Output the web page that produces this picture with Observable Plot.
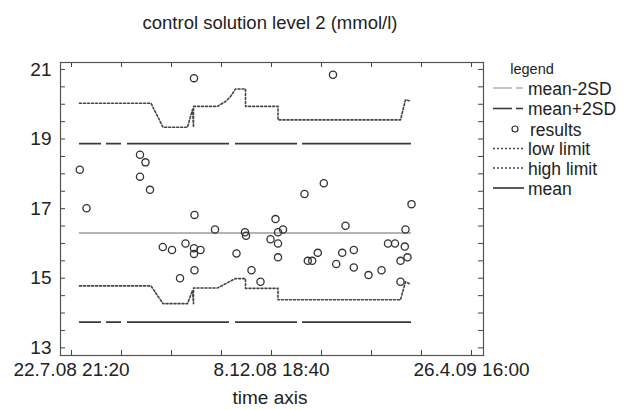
<!DOCTYPE html>
<html><head><meta charset="utf-8">
<script src="https://cdn.jsdelivr.net/npm/d3@7"></script>
<script src="https://cdn.jsdelivr.net/npm/@observablehq/plot@0.6"></script>
<style>
body{margin:0;background:#fff;}
#wrap{position:relative;width:624px;height:410px;font-family:"Liberation Sans",Arial,sans-serif;color:#222;overflow:hidden;}
#chart{position:absolute;left:0;top:0;}
#title{position:absolute;left:0;top:12px;width:540px;text-align:center;font-size:18.5px;line-height:22px;}
#xlabel{position:absolute;left:0;top:388px;width:540px;text-align:center;font-size:19px;line-height:20px;}
#legend{position:absolute;left:480px;top:55px;}
</style></head><body>
<div id="wrap">
<div id="chart"></div>
<div id="title">control solution level 2 (mmol/l)</div>
<div id="xlabel">time axis</div>
<svg id="legend" width="144" height="160"></svg>
</div>
<script>
// ---- data ----
const resultDates = [
"2008-07-28T15:30","2008-08-02T07:30","2008-09-08T11:00","2008-09-12T06:45","2008-09-08T11:00",
"2008-09-15T09:30","2008-09-24T07:00","2008-09-30T16:20","2008-10-06T05:45","2008-10-10T01:30",
"2008-10-15T23:00","2008-10-16T07:30","2008-10-15T23:00","2008-10-15T23:00","2008-10-20T11:20",
"2008-10-16T07:30","2008-10-30T13:00","2008-11-14T11:20","2008-11-20T09:00","2008-11-21T01:40",
"2008-11-24T21:20","2008-12-01T03:20","2008-12-08T02:00","2008-12-11T13:20","2008-12-13T07:00",
"2008-12-13T07:00","2008-12-16T18:30","2008-12-13T07:00","2008-12-31T16:50","2009-01-14T02:20",
"2009-01-20T11:45","2009-01-02T23:45","2009-01-06T01:00","2009-01-09T22:20","2009-01-22T17:00",
"2009-01-26T21:00","2009-01-29T04:00","2009-02-03T22:20","2009-02-03T22:20","2009-02-14T03:20",
"2009-02-23T04:00","2009-02-27T16:20","2009-03-04T13:00","2009-03-11T20:00","2009-03-11T08:20",
"2009-03-13T05:20","2009-03-08T08:40","2009-03-08T08:40","2009-03-16T00:00"];
const resultValues = [
18.12,17.01,18.55,18.33,17.92,
17.54,15.90,15.81,15.00,16.00,
20.75,16.82,15.86,15.70,15.81,
15.23,16.40,15.71,16.32,16.22,
15.23,14.90,16.12,16.70,16.32,
16.00,16.40,15.60,17.42,17.73,
20.85,15.50,15.50,15.73,15.41,
15.73,16.51,15.31,15.81,15.09,
15.23,16.00,16.00,16.40,15.91,
15.60,15.50,14.90,17.13];

const limitDates = [
"2008-07-28T10:45","2008-09-16T02:25","2008-09-24T10:20","2008-10-11T10:45","2008-10-14T22:00",
"2008-10-15T14:40","2008-10-15T14:40","2008-11-01T06:45","2008-11-06T20:00","2008-11-10T07:30",
"2008-11-13T18:45","2008-11-20T17:20","2008-11-20T17:20","2008-12-13T07:00","2008-12-13T07:00",
"2009-03-08T08:40","2009-03-11T20:00","2009-03-14T14:40"];
const highLimit = [20.03,20.03,19.34,19.34,19.85,19.34,19.94,19.94,20.08,20.22,20.44,20.44,19.94,19.94,19.55,19.55,20.13,20.10];
const lowLimit  = [14.78,14.78,14.27,14.27,14.65,14.27,14.72,14.72,14.84,14.92,14.99,14.99,14.71,14.71,14.38,14.38,14.90,14.84];

const meanValue = 16.30;
const meanPlus2SD = 18.87;
const meanMinus2SD = 13.74;
const lineSpan = ["2008-07-28T10:45","2009-03-16T00:00"];

const xDomain = ["2008-07-15T06:00","2009-05-05T00:00"];
const yDomain = [12.78, 21.2];
const xTickDates = ["2008-07-22T21:20","2008-12-08T18:40","2009-04-26T16:00"];
const xTickLabels = ["22.7.08 21:20","8.12.08 18:40","26.4.09 16:00"];
const yTicks = [13,15,17,19,21];
const legendLabels = ["mean-2SD","mean+2SD","results","low limit","high limit","mean"];

// ---- build ----
const parse = s => new Date(s);
const results = resultDates.map((d,i)=>({date: parse(d), value: resultValues[i]}));
const limits = limitDates.map((d,i)=>({date: parse(d), low: lowLimit[i], high: highLimit[i]}));
const sdLines = [meanPlus2SD, meanMinus2SD].map(v=>({y: v, x1: parse(lineSpan[0]), x2: parse(lineSpan[1])}));
const meanLine = [{y: meanValue, x1: parse(lineSpan[0]), x2: parse(lineSpan[1])}];
const xMajor = xTickDates.map(parse);
const t0 = +xMajor[0], t2 = +xMajor[xMajor.length-1];
const xMinor = d3.range(9).map(i => new Date(t0 + i*(t2-t0)/8));
const yMinor = d3.range(13, 21.001, 0.5);

const W=624, H=410, mL=60, mR=141, mT=62, mB=55;
const fw = W-mL-mR, fh = H-mT-mB, tk = 5;
const font = '"Liberation Sans", Arial, sans-serif';

const chart = Plot.plot({
  width: W, height: H, marginLeft: mL, marginRight: mR, marginTop: mT, marginBottom: mB,
  style: {fontFamily: font, color: "#222", background: "transparent", overflow: "visible"},
  x: {type: "time", domain: xDomain.map(parse)},
  y: {domain: yDomain},
  marks: [
    Plot.ruleY(meanLine, {y: "y", x1: "x1", x2: "x2", stroke: "#b4b4b4", strokeWidth: 2}),
    Plot.ruleY(sdLines, {y: "y", x1: "x1", x2: "x2", stroke: "#3a3a3a", strokeWidth: 1.6, strokeDasharray: "22 5 15 6 102 6 62 5 130"}),
    Plot.line(limits, {x: "date", y: "high", stroke: "#444", strokeWidth: 1.6, strokeDasharray: "2 2"}),
    Plot.line(limits, {x: "date", y: "low", stroke: "#444", strokeWidth: 1.6, strokeDasharray: "2 2"}),
    Plot.dot(results, {x: "date", y: "value", r: 3.6, stroke: "#333", strokeWidth: 1.3, fill: "none"}),
    Plot.tickX(xMinor, {x: d=>d, insetTop: fh-tk, stroke: "#444"}),
    Plot.tickX(xMinor, {x: d=>d, insetBottom: fh-tk, stroke: "#444"}),
    Plot.tickY(yMinor, {y: d=>d, insetRight: fw-tk, stroke: "#444"}),
    Plot.tickY(yMinor, {y: d=>d, insetLeft: fw-tk, stroke: "#444"}),
    Plot.frame({stroke: "#555", strokeWidth: 1.2}),
    Plot.axisY({ticks: yTicks, tickSize: 0, tickPadding: 9, fontSize: 19, label: null}),
    Plot.axisX({ticks: xMajor, tickSize: 0, tickPadding: 7, fontSize: 19, label: null,
      tickFormat: d => xTickLabels[xMajor.findIndex(t => +t === +d)]})
  ]
});
document.getElementById("chart").appendChild(chart);

// ---- legend ----
const lg = d3.select("#legend").style("font-family", font);
lg.append("text").attr("x", 52).attr("y", 19).attr("text-anchor", "middle")
  .attr("font-size", 14.5).attr("fill", "#222").text("legend");
const symY = [33, 53.5, 74, 93.5, 113, 133];
legendLabels.forEach((lab, i) => {
  const ys = symY[i], yb = ys + 6.5;
  if (i === 0 || i === 1) {
    const c = i === 0 ? "#b4b4b4" : "#3a3a3a";
    lg.append("line").attr("x1", 13).attr("x2", 32).attr("y1", ys).attr("y2", ys).attr("stroke", c).attr("stroke-width", 1.6);
    lg.append("line").attr("x1", 36).attr("x2", 43).attr("y1", ys).attr("y2", ys).attr("stroke", c).attr("stroke-width", 1.6);
  } else if (i === 2) {
    lg.append("circle").attr("cx", 35).attr("cy", ys).attr("r", 3).attr("fill", "none").attr("stroke", "#333").attr("stroke-width", 1.2);
  } else if (i === 3 || i === 4) {
    lg.append("line").attr("x1", 13).attr("x2", 44).attr("y1", ys).attr("y2", ys).attr("stroke", "#444").attr("stroke-width", 1.4).attr("stroke-dasharray", "2 2");
  } else {
    lg.append("line").attr("x1", 13).attr("x2", 44).attr("y1", ys).attr("y2", ys).attr("stroke", "#333").attr("stroke-width", 1.6);
  }
  lg.append("text").attr("x", i === 2 ? 50 : 48).attr("y", yb).attr("font-size", 17.5).attr("fill", "#222").text(lab);
});
</script>
</body></html>
